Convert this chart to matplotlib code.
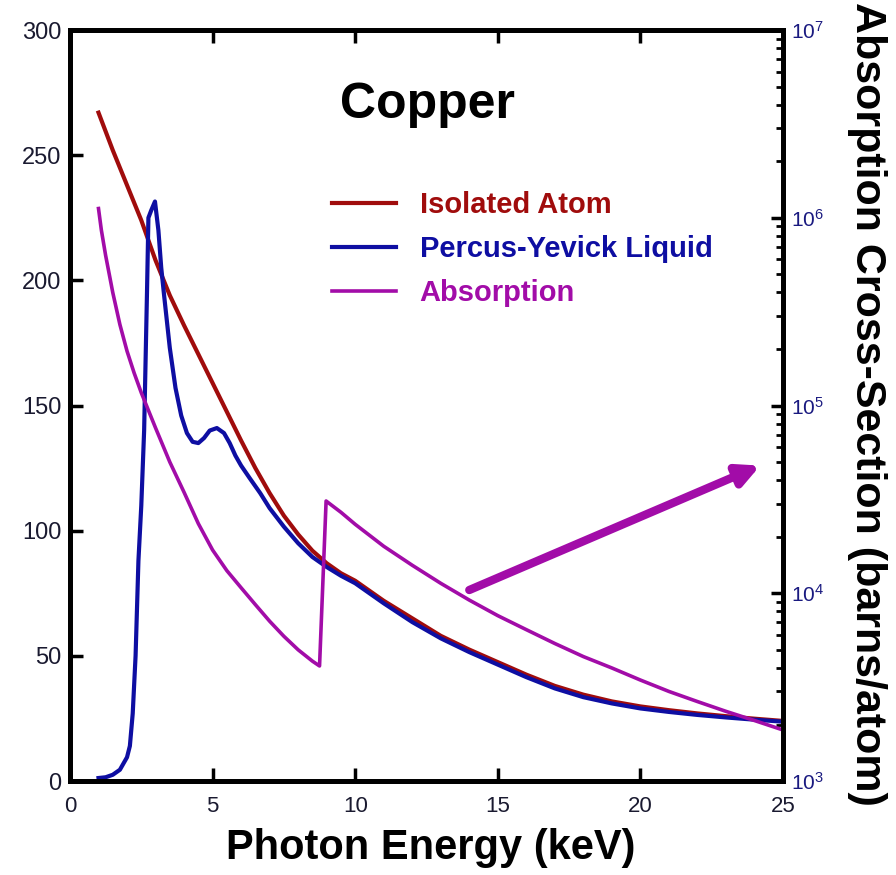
import matplotlib
matplotlib.use("Agg")
import matplotlib.pyplot as plt

plt.rcParams['font.family'] = ['Liberation Sans', 'DejaVu Sans']
plt.rcParams['mathtext.fontset'] = 'custom'
plt.rcParams['mathtext.rm'] = 'Liberation Sans'

# isolated Cu atom, scattering (left axis)
atom_e = [1.0, 1.5, 2.0, 2.5, 3.0, 3.5, 4.0, 4.5, 5.0, 5.5, 6.0, 6.5, 7.0, 7.5,
          8.0, 8.5, 9.0, 9.5, 10, 11, 12, 13, 14, 15, 16, 17, 18, 19, 20, 21,
          22, 23, 24, 25]
atom_s = [267, 252, 238, 224, 208, 194, 182, 170.5, 159, 147.5, 136, 125, 115, 106,
          98.5, 92, 87, 83, 80, 72, 65, 58, 52.5, 47.5, 42.5, 38, 34.5, 31.8, 29.8,
          28.3, 27, 25.9, 24.9, 24.0]

# Percus-Yevick liquid (left axis)
py_e = [1.0, 1.25, 1.5, 1.75, 2.0, 2.1, 2.2, 2.3, 2.4, 2.5, 2.6, 2.7, 2.75,
        2.85, 2.98, 3.1, 3.2, 3.3, 3.5, 3.7, 3.9, 4.1, 4.3, 4.5, 4.7, 4.9,
        5.15, 5.4, 5.6, 5.8, 6.0, 6.3, 6.67, 7.0, 7.5, 8.0, 8.5, 9.0, 9.5,
        10, 11, 12, 13, 14, 15, 16, 17, 18, 19, 20, 21, 22, 23, 24, 25]
py_s = [1.2, 1.5, 2.5, 4.5, 9.5, 14, 27, 50, 88, 110, 140, 195, 225,
        228, 231.5, 220, 205, 194, 173, 157, 146, 139, 135.5, 135, 137, 140,
        141, 139, 135, 130, 126, 121, 115, 109, 101.6, 95, 89.5, 85.5, 82,
        79, 71, 63.5, 57, 51.5, 46.5, 41.5, 37, 33.5, 31, 29, 27.6, 26.4,
        25.4, 24.5, 23.7]

# photoabsorption cross-section, barns/atom (right axis)
abs_e = [1.0, 1.1, 1.25, 1.4, 1.5, 1.75, 2.0, 2.25, 2.5, 3.0, 3.5, 4.0, 4.5,
         5.0, 5.5, 6.0, 6.5, 7.0, 7.5, 8.0, 8.5, 8.75, 8.98, 9.5, 10, 11, 12,
         13, 14, 15, 16, 17, 18, 19, 20, 21, 22, 23, 24, 25]
abs_cs = [1.12e6, 8.6e5, 6.3e5, 4.8e5, 4.0e5, 2.7e5, 1.95e5, 1.49e5, 1.17e5,
          7.6e4, 5.0e4, 3.45e4, 2.35e4, 1.7e4, 1.32e4, 1.07e4, 8.7e3, 7.1e3,
          5.9e3, 5.0e3, 4.35e3, 4.1e3, 3.1e4, 2.7e4, 2.33e4, 1.78e4, 1.41e4,
          1.13e4, 9.2e3, 7.6e3, 6.4e3, 5.4e3, 4.6e3, 4.0e3, 3.45e3, 3.0e3,
          2.65e3, 2.35e3, 2.1e3, 1.87e3]

red = '#a00c0c'
blue = '#0e0ea2'
purple = '#a20ca8'
tick_col = '#1a1a30'

fig = plt.figure(figsize=(8.96, 8.75), dpi=100)
ax = fig.add_axes([0.0781, 0.1074, 0.7958, 0.8583])
ax2 = ax.twinx()

l1, = ax.plot(atom_e, atom_s, color=red, lw=3.0, label='Isolated Atom')
l2, = ax.plot(py_e, py_s, color=blue, lw=3.0, label='Percus-Yevick Liquid')
l3, = ax2.plot(abs_e, abs_cs, color=purple, lw=2.6, label='Absorption')

ax.set_xlim(0, 25)
ax.set_ylim(0, 300)
ax.set_xticks([0, 5, 10, 15, 20, 25])
ax.set_yticks([0, 50, 100, 150, 200, 250, 300])
ax2.set_yscale('log')
ax2.set_ylim(1e3, 1e7)

for sp in ax2.spines.values():
    sp.set_linewidth(3.5)
for sp in ax.spines.values():
    sp.set_linewidth(3.5)

ax.tick_params(axis='x', direction='in', top=True, length=9.5, width=2.5,
               pad=11, labelsize=16, labelcolor=tick_col)
ax.tick_params(axis='y', direction='in', right=False, length=9.5, width=2.5,
               pad=6, labelsize=17, labelcolor=tick_col)
ax2.tick_params(axis='y', which='major', direction='in', length=9, width=2.5,
                pad=6, labelsize=15, labelcolor='#1a1a80')
ax2.tick_params(axis='y', which='minor', direction='in', length=5, width=2)

ax.set_xlabel('Photon Energy (keV)', fontsize=30, fontweight='bold', va='center')
ax.xaxis.set_label_coords(0.506, -0.089)
ax2.set_ylabel('Absorption Cross-Section (barns/atom)', fontsize=31,
               fontweight='bold', rotation=270, va='center', ha='center')
ax2.yaxis.set_label_coords(1.118, 0.502)

ax.text(0.502, 0.883, 'Copper', transform=ax.transAxes, fontsize=36,
        fontweight='bold', ha='center', va='baseline')

ax.legend([l1, l2, l3], [l1.get_label(), l2.get_label(), l3.get_label()],
          loc='upper left', bbox_to_anchor=(0.3675, 0.786), frameon=False,
          prop={'weight': 'bold', 'size': 21}, labelcolor='linecolor',
          handlelength=2.2, handletextpad=0.8, borderpad=0, borderaxespad=0,
          labelspacing=0.56)

# arrow pointing at the absorption scale
ax.annotate('', xy=(24.2, 126), xytext=(14.0, 76.3),
            arrowprops=dict(arrowstyle='-|>', color=purple, lw=6,
                            mutation_scale=32, shrinkA=0, shrinkB=0))

fig.savefig('out.png', dpi=100)
